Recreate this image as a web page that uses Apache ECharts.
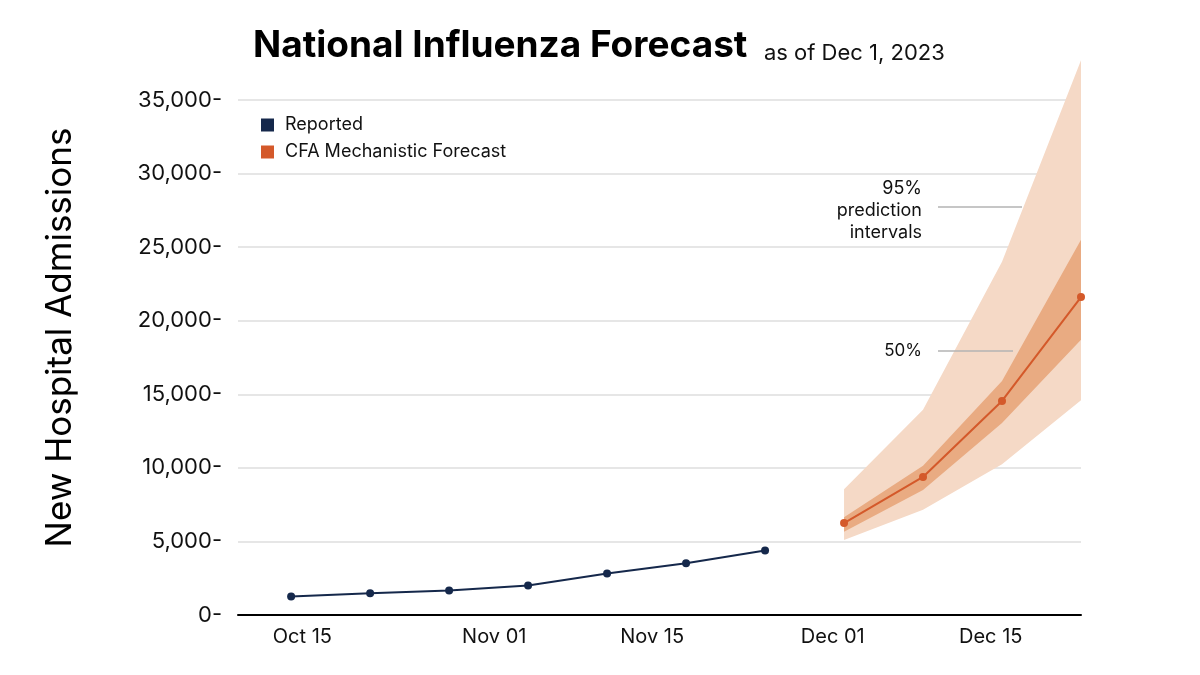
<!DOCTYPE html>
<html>
<head>
<meta charset="utf-8">
<script src="https://cdn.jsdelivr.net/npm/echarts@6/dist/echarts.min.js"></script>
<style>
html, body { margin: 0; padding: 0; background: #fff; }
#chart { width: 1200px; height: 675px; }
</style>
</head>
<body>
<div id="chart"></div>
<script>
// weekly reported admissions
var reportedDates = ['2023-10-14', '2023-10-21', '2023-10-28', '2023-11-04', '2023-11-11', '2023-11-18', '2023-11-25'];
var reportedValues = [1250, 1480, 1660, 2000, 2820, 3520, 4390];

// forecast, median + intervals
var forecastDates = ['2023-12-02', '2023-12-09', '2023-12-16', '2023-12-23'];
var forecastMedian = [6250, 9380, 14550, 21610];
var lower95 = [5100, 7150, 10250, 14600];
var upper95 = [8550, 13950, 24000, 37700];
var lower50 = [5650, 8500, 13050, 18700];
var upper50 = [6650, 10150, 15900, 25500];

// axis ticks
var xTickDates = ['2023-10-15', '2023-11-01', '2023-11-15', '2023-12-01', '2023-12-15'];
var xTickLabels = ['Oct 15', 'Nov 01', 'Nov 15', 'Dec 01', 'Dec 15'];

var navy = '#15284b';
var orange = '#d4592a';
var light = '#f5d9c6';
var dark = '#e9ab82';
var font = 'Inter';

function toTime(s) {
	var p = s.split('-');
	return Date.UTC(+p[0], +p[1] - 1, +p[2]);
}

function pairs(dates, vals) {
	var out = [];
	for (var i = 0; i < dates.length; i++) {
		out.push([toTime(dates[i]), vals[i]]);
	}
	return out;
}

function bandRows(dates, lo, hi) {
	var out = [];
	for (var i = 0; i < dates.length; i++) {
		out.push([toTime(dates[i]), lo[i], hi[i]]);
	}
	return out;
}

// whole band as one polygon: upper edge forward, lower edge back
function bandRenderer(color) {
	return function (params, api) {
		if (params.dataIndexInside !== 0) return;
		var n = params.dataInsideLength;
		var pts = [];
		for (var j = 0; j < n; j++) pts.push(api.coord([api.value(0, j), api.value(2, j)]));
		for (var k = n - 1; k >= 0; k--) pts.push(api.coord([api.value(0, k), api.value(1, k)]));
		return {type: 'polygon', shape: {points: pts}, style: {fill: color}};
	};
}

var tickTimes = xTickDates.map(toTime);

var my_chart = echarts.init(document.getElementById('chart'), null, {renderer: 'canvas'});
my_chart.setOption({
	animation: false,
	textStyle: {fontFamily: font},
	title: {
		left: 248,
		top: 22,
		text: '{a|National Influenza Forecast}  {b|as of Dec 1, 2023}',
		textStyle: {
			rich: {
				a: {fontFamily: font, fontSize: 37, fontWeight: 'bold', color: '#000', verticalAlign: 'bottom'},
				b: {fontFamily: font, fontSize: 22, fontWeight: 'normal', color: '#111', verticalAlign: 'bottom', padding: [0, 0, 0, 8]}
			}
		}
	},
	legend: {
		left: 256,
		top: 111,
		orient: 'vertical',
		icon: 'rect',
		itemWidth: 13,
		itemHeight: 13,
		itemGap: 9,
		textStyle: {fontFamily: font, fontSize: 18, color: '#111', padding: [0, 0, 0, 6]},
		data: [
			{name: 'Reported', itemStyle: {color: navy}},
			{name: 'CFA Mechanistic Forecast', itemStyle: {color: orange}}
		]
	},
	grid: {left: 238, right: 119, top: 100, bottom: 60},
	xAxis: {
		type: 'value',
		min: Date.UTC(2023, 9, 9, 7),
		max: toTime('2023-12-23'),
		axisLine: {show: true, lineStyle: {color: '#000', width: 2}},
		axisTick: {show: false},
		splitLine: {show: false},
		axisLabel: {
			customValues: tickTimes,
			fontFamily: font,
			fontSize: 20,
			color: '#111',
			margin: 12,
			formatter: function (v) {
				var i = tickTimes.indexOf(v);
				return i >= 0 ? xTickLabels[i] : '';
			}
		}
	},
	yAxis: {
		type: 'value',
		min: 0,
		max: 35000,
		interval: 5000,
		name: 'New Hospital Admissions',
		nameLocation: 'middle',
		nameGap: 160,
		nameTextStyle: {fontFamily: font, fontSize: 35, color: '#000', padding: [0, 0, 0, 40]},
		axisLine: {show: false},
		axisTick: {show: false},
		splitLine: {lineStyle: {color: '#e6e6e6', width: 2}},
		axisLabel: {
			fontFamily: font,
			fontSize: 22,
			color: '#111',
			margin: 16,
			formatter: function (v) {
				return v.toLocaleString('en-US') + '-';
			}
		}
	},
	graphic: [
		{type: 'text', x: 922, y: 178, z: 10, style: {text: '95%\nprediction\nintervals', font: '18px Inter', fill: '#111', align: 'right', lineHeight: 22}},
		{type: 'line', z: 10, shape: {x1: 938, y1: 207, x2: 1022, y2: 207}, style: {stroke: '#b3b3b3', lineWidth: 1.5}},
		{type: 'text', x: 922, y: 342, z: 10, style: {text: '50%', font: '17px Inter', fill: '#111', align: 'right'}},
		{type: 'line', z: 10, shape: {x1: 938, y1: 351, x2: 1013, y2: 351}, style: {stroke: '#b3b3b3', lineWidth: 1.5}}
	],
	series: [
		{
			name: 'band95', type: 'custom', clip: false, silent: true,
			renderItem: bandRenderer(light),
			encode: {x: 0, y: [1, 2]},
			data: bandRows(forecastDates, lower95, upper95)
		},
		{
			name: 'band50', type: 'custom', clip: false, silent: true,
			renderItem: bandRenderer(dark),
			encode: {x: 0, y: [1, 2]},
			data: bandRows(forecastDates, lower50, upper50)
		},
		{
			name: 'CFA Mechanistic Forecast', type: 'line', clip: false,
			symbol: 'circle', symbolSize: 8,
			itemStyle: {color: orange},
			lineStyle: {color: orange, width: 2},
			data: pairs(forecastDates, forecastMedian)
		},
		{
			name: 'Reported', type: 'line',
			symbol: 'circle', symbolSize: 8,
			itemStyle: {color: navy},
			lineStyle: {color: navy, width: 2},
			data: pairs(reportedDates, reportedValues)
		}
	]
});
</script>
</body>
</html>
